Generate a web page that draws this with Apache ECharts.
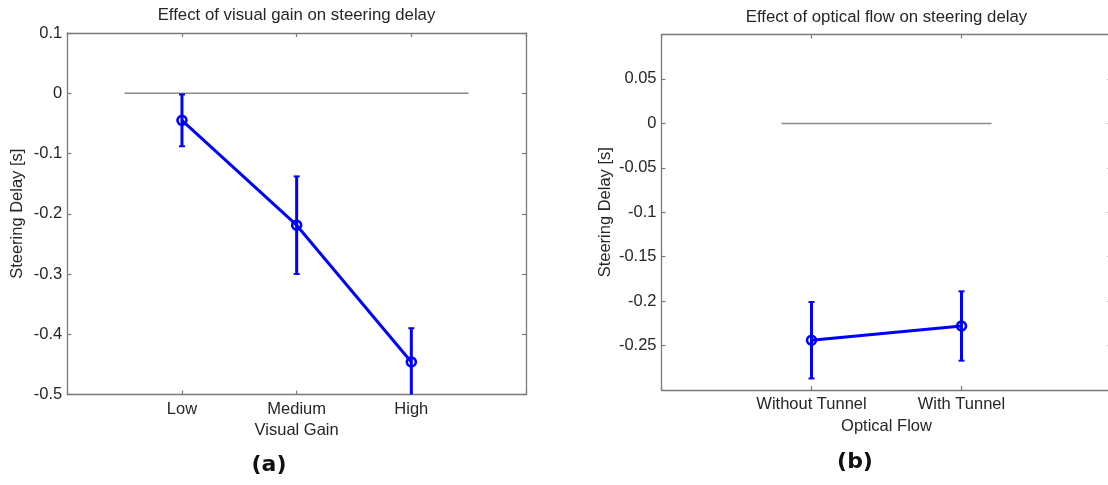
<!DOCTYPE html>
<html>
<head>
<meta charset="utf-8">
<script src="https://cdn.jsdelivr.net/npm/echarts@6/dist/echarts.min.js"></script>
<style>html,body{margin:0;padding:0;background:#fff;overflow:hidden;}#c{width:1108px;height:485px;}</style>
</head>
<body>
<div id="c"></div>
<script>
// ---- Data ----
const catsA = ['Low', 'Medium', 'High'];
const meansA = [-0.045, -0.219, -0.446];
const errA = [0.043, 0.081, 0.056];
const zeroLineA = [0.5, 3.5];

const catsB = ['Without Tunnel', 'With Tunnel'];
const meansB = [-0.244, -0.228];
const errB = [0.043, 0.039];
const zeroLineB = [0.8, 2.2];

const titleA = 'Effect of visual gain on steering delay';
const titleB = 'Effect of optical flow on steering delay';
const xNameA = 'Visual Gain';
const xNameB = 'Optical Flow';
const yName = 'Steering Delay [s]';

// ---- Styles ----
const FONT = '"Liberation Sans", Arial, Helvetica, sans-serif';
const TXT = '#262626';
const AX = '#7a7a7a';
const BLUE = '#0000ff';
const FS = 16.5;

const chart = echarts.init(document.getElementById('c'), null, {renderer: 'canvas'});

function fmtY(v) { const r = Math.round(v * 100) / 100; return r === 0 ? '0' : String(r); }

function mkX(grid, cats, max, pos, name, show) {
  return {
    type: 'value', gridIndex: grid, min: 0, max: max, interval: 1, position: pos,
    name: show ? name : '', nameLocation: 'middle', nameGap: 26,
    nameTextStyle: {color: TXT, fontSize: FS, fontFamily: FONT},
    axisLine: {show: true, onZero: false, lineStyle: {color: AX, width: 1.3}},
    axisTick: {show: true, inside: true, length: 4, lineStyle: {color: AX, width: 1.2}},
    axisLabel: {show: show, margin: 6, color: TXT, fontSize: FS, fontFamily: FONT,
      formatter: v => cats[v - 1] || ''},
    splitLine: {show: false}
  };
}
function mkY(grid, min, max, interval, pos, show, gap, hideEnds) {
  return {
    type: 'value', gridIndex: grid, min: min, max: max, interval: interval, position: pos,
    name: show ? yName : '', nameLocation: 'middle', nameGap: gap, nameRotate: 90,
    nameTextStyle: {color: TXT, fontSize: FS, fontFamily: FONT},
    axisLine: {show: true, onZero: false, lineStyle: {color: AX, width: 1.3}},
    axisTick: {show: true, inside: true, length: 4, lineStyle: {color: AX, width: 1.2}},
    axisLabel: {show: show, margin: 5, color: TXT, fontSize: FS, fontFamily: FONT,
      showMinLabel: !hideEnds, showMaxLabel: !hideEnds,
      formatter: v => {
        if (hideEnds && (Math.abs(v - max) < 1e-9 || Math.abs(v - min) < 1e-9)) return '';
        return fmtY(v);
      }},
    splitLine: {show: false}
  };
}

function errSeries(xi, yi, means, errs) {
  return {
    type: 'custom', xAxisIndex: xi, yAxisIndex: yi, z: 3,
    data: means.map((m, i) => [i + 1, m, m + errs[i], m - errs[i]]),
    renderItem: function (params, api) {
      const cs = params.coordSys;
      const x = api.coord([api.value(0), 0])[0];
      const yTop = api.coord([0, api.value(2)])[1];
      const yBot = api.coord([0, api.value(3)])[1];
      const lo = cs.y, hi = cs.y + cs.height;
      const t = Math.max(lo, Math.min(hi, yTop));
      const b = Math.max(lo, Math.min(hi, yBot));
      const children = [{type: 'line', shape: {x1: x, y1: t, x2: x, y2: b},
        style: {stroke: BLUE, lineWidth: 3}}];
      if (yTop >= lo && yTop <= hi) children.push({type: 'line',
        shape: {x1: x - 3, y1: yTop, x2: x + 3, y2: yTop}, style: {stroke: BLUE, lineWidth: 2}});
      if (yBot >= lo && yBot < hi - 0.5) children.push({type: 'line',
        shape: {x1: x - 3, y1: yBot, x2: x + 3, y2: yBot}, style: {stroke: BLUE, lineWidth: 2}});
      return {type: 'group', children: children};
    }
  };
}
function meanSeries(xi, yi, means) {
  return {
    type: 'line', xAxisIndex: xi, yAxisIndex: yi, z: 4,
    data: means.map((m, i) => [i + 1, m]),
    symbol: 'circle', symbolSize: 9,
    itemStyle: {color: 'rgba(0,0,0,0)', borderColor: BLUE, borderWidth: 2.6},
    lineStyle: {color: BLUE, width: 3}, emphasis: {disabled: true}, animation: false
  };
}
function zeroSeries(xi, yi, zl) {
  return {
    type: 'line', xAxisIndex: xi, yAxisIndex: yi, z: 2, symbol: 'none',
    data: [[zl[0], 0], [zl[1], 0]], lineStyle: {color: '#8a8a8a', width: 1.5},
    emphasis: {disabled: true}, animation: false
  };
}

const option = {
  animation: false,
  backgroundColor: '#fff',
  grid: [
    {left: 67.3, top: 33, width: 458.7, height: 361.5, outerBoundsMode: 'none', containLabel: false},
    {left: 661.5, top: 34.5, width: 450, height: 355.5, outerBoundsMode: 'none', containLabel: false}
  ],
  xAxis: [
    mkX(0, catsA, 4, 'bottom', xNameA, true),
    mkX(0, catsA, 4, 'top', '', false),
    mkX(1, catsB, 3, 'bottom', xNameB, true),
    mkX(1, catsB, 3, 'top', '', false)
  ],
  yAxis: [
    mkY(0, -0.5, 0.1, 0.1, 'left', true, 41, false),
    mkY(0, -0.5, 0.1, 0.1, 'right', false, 0, false),
    mkY(1, -0.3, 0.1, 0.05, 'left', true, 48, true),
    mkY(1, -0.3, 0.1, 0.05, 'right', false, 0, true)
  ],
  series: [
    zeroSeries(0, 0, zeroLineA),
    errSeries(0, 0, meansA, errA),
    meanSeries(0, 0, meansA),
    zeroSeries(2, 2, zeroLineB),
    errSeries(2, 2, meansB, errB),
    meanSeries(2, 2, meansB)
  ],
  graphic: [
    {type: 'text', x: 296.5, y: 15, style: {text: titleA, textAlign: 'center', textVerticalAlign: 'middle',
      font: 'normal 16.8px ' + FONT, fill: TXT}},
    {type: 'text', x: 886.5, y: 17, style: {text: titleB, textAlign: 'center', textVerticalAlign: 'middle',
      font: 'normal 16.8px ' + FONT, fill: TXT}},
    {type: 'text', x: 269, y: 465, style: {text: '(a)', textAlign: 'center', textVerticalAlign: 'middle',
      font: 'bold 22px "DejaVu Sans", sans-serif', fill: '#111'}},
    {type: 'text', x: 855, y: 462, style: {text: '(b)', textAlign: 'center', textVerticalAlign: 'middle',
      font: 'bold 22px "DejaVu Sans", sans-serif', fill: '#111'}}
  ]
};
chart.setOption(option);
</script>
</body>
</html>
